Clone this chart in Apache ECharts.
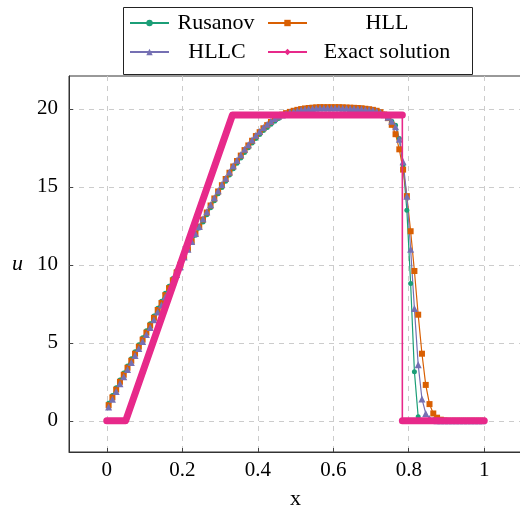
<!DOCTYPE html>
<html>
<head>
<meta charset="utf-8">
<script src="https://cdn.jsdelivr.net/npm/echarts@6/dist/echarts.min.js"></script>
<style>html,body{margin:0;padding:0;background:#fff}#c{width:520px;height:508px}</style>
</head>
<body>
<div id="c"></div>
<script>
// ---- data ----
const xGrid = [0.005,0.015,0.025,0.035,0.045,0.055,0.065,0.075,0.085,0.095,
0.105,0.115,0.125,0.135,0.145,0.155,0.165,0.175,0.185,0.195,
0.205,0.215,0.225,0.235,0.245,0.255,0.265,0.275,0.285,0.295,
0.305,0.315,0.325,0.335,0.345,0.355,0.365,0.375,0.385,0.395,
0.405,0.415,0.425,0.435,0.445,0.455,0.465,0.475,0.485,0.495,
0.505,0.515,0.525,0.535,0.545,0.555,0.565,0.575,0.585,0.595,
0.605,0.615,0.625,0.635,0.645,0.655,0.665,0.675,0.685,0.695,
0.705,0.715,0.725,0.735,0.745,0.755,0.765,0.775,0.785,0.795,
0.805,0.815,0.825,0.835,0.845,0.855,0.865,0.875,0.885,0.895,
0.905,0.915,0.925,0.935,0.945,0.955,0.965,0.975,0.985,0.995];

const rusanov = [1.12,1.62,2.12,2.62,3.07,3.52,3.97,4.42,4.87,5.32,
5.77,6.22,6.72,7.22,7.67,8.17,8.62,9.12,9.62,10.12,
10.55,11.0,11.45,11.9,12.35,12.75,13.2,13.65,14.1,14.55,
14.95,15.35,15.75,16.15,16.5,16.85,17.2,17.5,17.8,18.1,
18.35,18.6,18.8,19.0,19.2,19.38,19.55,19.68,19.77,19.85,
19.92,19.97,20.01,20.04,20.06,20.08,20.09,20.1,20.1,20.1,
20.1,20.1,20.09,20.08,20.07,20.06,20.05,20.03,20.0,19.97,
19.93,19.87,19.78,19.65,19.45,19.2,18.95,18.1,16.4,13.5,
8.8,3.15,0.26,0.02,0,0,0,0,0,0,
0,0,0,0,0,0,0,0,0,0];

const hll = [1.0,1.5,2.0,2.5,2.95,3.4,3.85,4.3,4.75,5.2,
5.65,6.1,6.6,7.1,7.55,8.05,8.5,9.0,9.5,10.0,
10.5,11.0,11.5,12.0,12.45,12.9,13.35,13.8,14.25,14.7,
15.1,15.5,15.9,16.3,16.65,17.0,17.35,17.65,17.95,18.25,
18.5,18.75,18.95,19.15,19.35,19.5,19.62,19.72,19.8,19.87,
19.93,19.98,20.02,20.05,20.07,20.09,20.1,20.1,20.1,20.1,
20.1,20.1,20.09,20.08,20.07,20.06,20.05,20.03,20.0,19.97,
19.93,19.87,19.78,19.63,19.4,18.97,18.37,17.4,16.1,14.4,
12.15,9.6,6.8,4.3,2.3,1.07,0.47,0.2,0.07,0.02,
0,0,0,0,0,0,0,0,0,0];

const hllc = [0.88,1.38,1.88,2.38,2.83,3.28,3.73,4.18,4.63,5.08,
5.53,5.98,6.48,6.98,7.43,7.93,8.38,8.88,9.38,9.88,
10.5,11.0,11.5,12.0,12.45,12.95,13.4,13.85,14.3,14.75,
15.15,15.55,15.95,16.35,16.7,17.05,17.4,17.7,18.0,18.3,
18.55,18.8,19.0,19.2,19.38,19.52,19.6,19.69,19.77,19.83,
19.89,19.94,19.97,20.0,20.02,20.04,20.05,20.05,20.05,20.05,
20.05,20.05,20.04,20.03,20.02,20.01,20.0,19.98,19.96,19.93,
19.9,19.84,19.76,19.62,19.45,19.2,18.85,18.05,16.6,14.4,
11.0,7.2,3.6,1.4,0.47,0.15,0.05,0.01,0,0,
0,0,0,0,0,0,0,0,0,0];

const exactX = [0, 0.05, 0.333, 0.783, 0.783, 1];
const exactU = [0, 0, 19.6, 19.6, 0, 0];

const xTicks = [0, 0.2, 0.4, 0.6, 0.8, 1];
const yTicks = [0, 5, 10, 15, 20];
const names = ['Rusanov', 'HLL', 'HLLC', 'Exact solution'];
const colors = ['#1b9e77', '#d95f02', '#7570b3', '#e7298a'];

// ---- build ----
const zip = (xs, ys) => xs.map((x, i) => [x, ys[i]]);
const FONT = '"Liberation Serif", "DejaVu Serif", serif';
const exactPts = zip(exactX, exactU);

const chart = echarts.init(document.getElementById('c'), null, {renderer: 'canvas'});

function legendItem(name, left, top, w) {
  return {
    data: [name], left: left, top: top, orient: 'horizontal',
    itemWidth: 39, itemHeight: 8, padding: 0, selectedMode: false,
    formatter: n => '{a|' + n + '}',
    textStyle: {fontFamily: FONT, fontSize: 22, color: '#000',
      rich: {a: {fontFamily: FONT, fontSize: 22, width: w, align: 'center', lineHeight: 22}}}
  };
}

const lineBase = {type: 'line', animation: false, z: 3};

chart.setOption({
  animation: false,
  backgroundColor: '#fff',
  grid: {left: 69, right: -2, top: 76, bottom: 56, show: true, borderColor: '#333', borderWidth: 1,
    outerBoundsMode: 'none', containLabel: false},
  legend: [
    legendItem(names[0], 129, 12, 84),
    legendItem(names[1], 267, 12, 150),
    legendItem(names[2], 129, 41, 86),
    legendItem(names[3], 267, 41, 150)
  ],
  graphic: [{type: 'rect', left: 121, top: 5, shape: {width: 349, height: 67},
    style: {fill: 'none', stroke: '#222', lineWidth: 1}, z: 10}],
  xAxis: {
    type: 'value', min: -0.1, max: 1.1,
    name: 'x', nameLocation: 'middle', nameGap: 36,
    nameTextStyle: {fontFamily: FONT, fontSize: 22, color: '#000'},
    axisLine: {show: true, onZero: false, lineStyle: {color: '#333', width: 1}},
    axisTick: {show: true, inside: true, length: 4, customValues: xTicks, lineStyle: {color: '#444'}},
    axisLabel: {customValues: xTicks, fontFamily: FONT, fontSize: 21, color: '#000', margin: 8,
      formatter: v => String(v)},
    splitLine: {show: true, lineStyle: {color: '#cccccc', type: [5, 5], width: 1}}
  },
  yAxis: {
    type: 'value', min: -2, max: 22.1,
    name: 'u', nameLocation: 'middle', nameGap: 46, nameRotate: 0,
    nameTextStyle: {fontFamily: FONT, fontSize: 22, fontStyle: 'italic', color: '#000'},
    axisLine: {show: true, onZero: false, lineStyle: {color: '#333', width: 1}},
    axisTick: {show: true, inside: true, length: 4, customValues: yTicks, lineStyle: {color: '#444'}},
    axisLabel: {customValues: yTicks, fontFamily: FONT, fontSize: 21, color: '#000', margin: 11},
    splitLine: {show: true, lineStyle: {color: '#cccccc', type: [5, 5], width: 1}}
  },
  series: [
    Object.assign({}, lineBase, {name: names[0], data: zip(xGrid, rusanov), color: colors[0],
      symbol: 'circle', symbolSize: 5, lineStyle: {width: 1.2}}),
    Object.assign({}, lineBase, {name: names[1], data: zip(xGrid, hll), color: colors[1],
      symbol: 'rect', symbolSize: 6, lineStyle: {width: 1.2}}),
    Object.assign({}, lineBase, {name: names[2], data: zip(xGrid, hllc), color: colors[2],
      symbol: 'triangle', symbolSize: 7, lineStyle: {width: 1.2}}),
    Object.assign({}, lineBase, {name: names[3], data: exactPts, color: colors[3],
      symbol: 'diamond', symbolSize: 6, lineStyle: {width: 1.6}, z: 4}),
    Object.assign({}, lineBase, {name: 'exact-band-1', data: exactPts.slice(0, 4), color: colors[3],
      symbol: 'none', silent: true, z: 4,
      lineStyle: {width: 7, cap: 'round', join: 'round'}}),
    Object.assign({}, lineBase, {name: 'exact-band-2', data: exactPts.slice(4), color: colors[3],
      symbol: 'none', silent: true, z: 4,
      lineStyle: {width: 7, cap: 'round', join: 'round'}})
  ]
});
</script>
</body>
</html>
